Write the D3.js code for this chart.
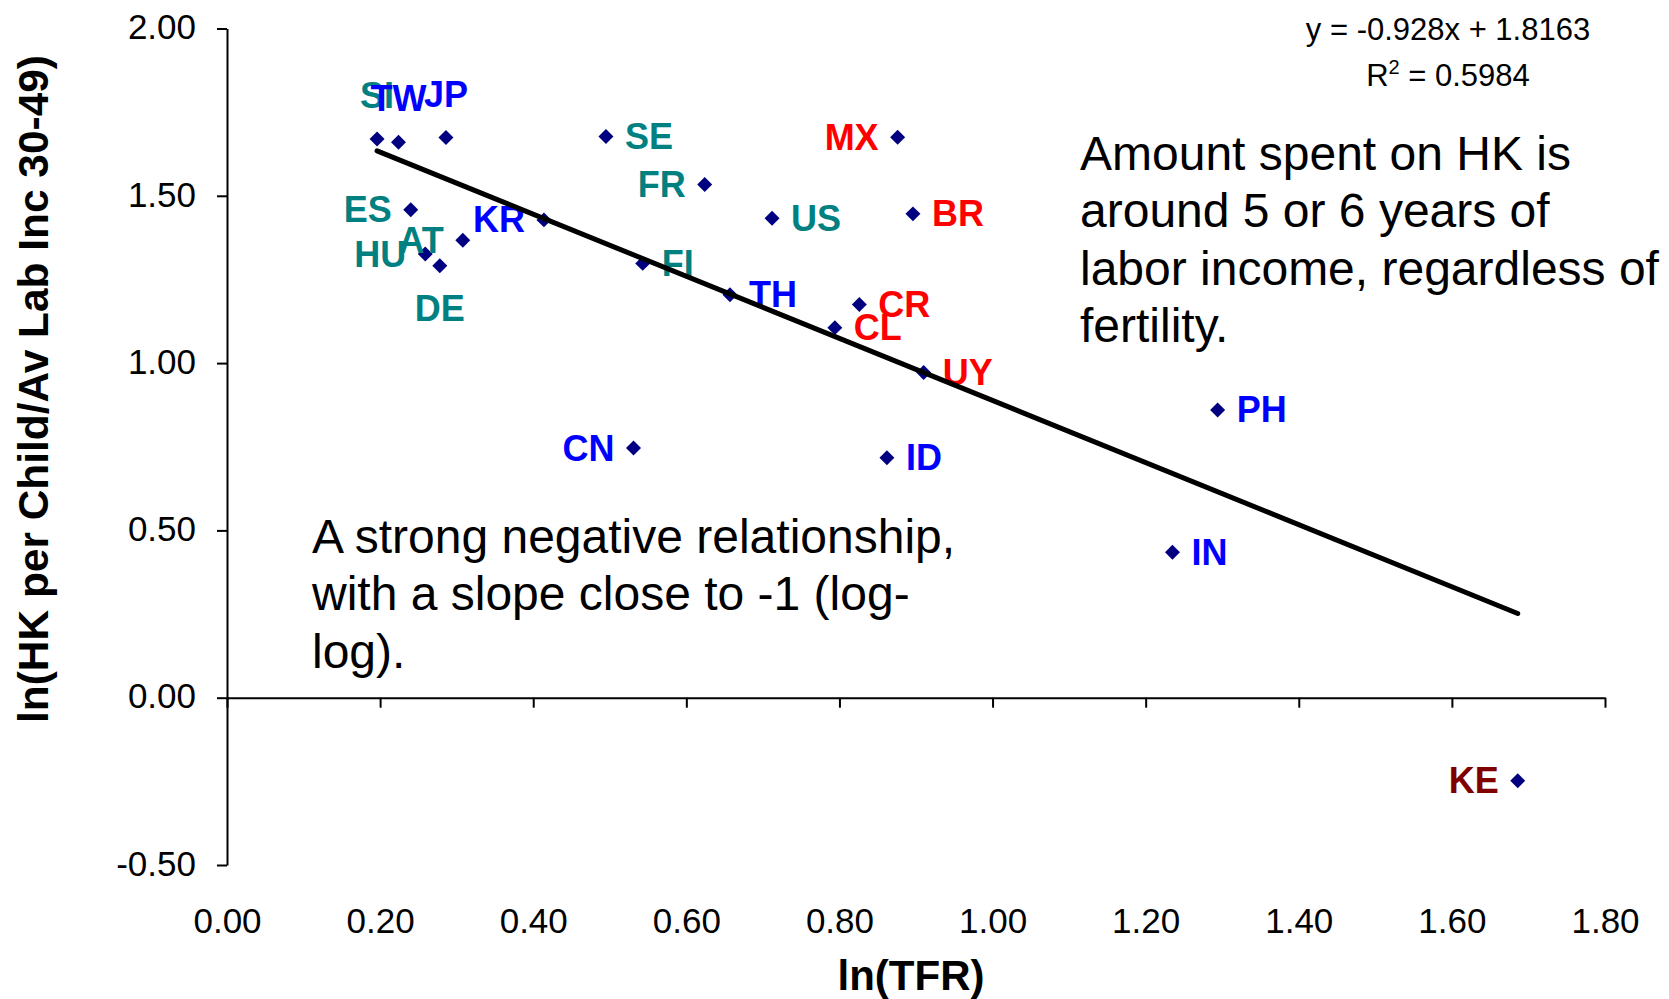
<!DOCTYPE html>
<html>
<head>
<meta charset="utf-8">
<script src="https://cdn.jsdelivr.net/npm/d3@7"></script>
<style>
  html, body { margin: 0; padding: 0; background: #ffffff; }
  svg { display: block; font-family: "Liberation Sans", Arial, Helvetica, sans-serif; }
</style>
</head>
<body>
<svg id="chart" width="1669" height="999"></svg>
<script>
// ---------------- DATA ----------------
const countries = ["SI","TW","JP","ES","HU","AT","DE","KR","SE","FR","US","FI","TH","CN","MX","BR","CR","CL","UY","ID","PH","IN","KE"];
const lnTFR     = [0.196,0.224,0.286,0.240,0.259,0.308,0.278,0.414,0.495,0.624,0.712,0.543,0.657,0.531,0.876,0.896,0.826,0.794,0.910,0.862,1.294,1.235,1.686];
const lnHK      = [1.670,1.660,1.674,1.458,1.326,1.367,1.291,1.428,1.677,1.534,1.433,1.298,1.204,0.746,1.675,1.446,1.175,1.106,0.972,0.717,0.860,0.435,-0.248];
const regionGroup = ["eu","asia","asia","eu","eu","eu","eu","asia","eu","eu","eu","eu","asia","asia","latam","latam","latam","latam","latam","asia","asia","asia","africa"];
const labelSide = ["above","above","above","left","left","left","below","left","right","left","right","right","right","left","left","right","right","right","right","right","right","right","left"];

const xTickValues = [0.0,0.2,0.4,0.6,0.8,1.0,1.2,1.4,1.6,1.8];
const yTickValues = [-0.5,0.0,0.5,1.0,1.5,2.0];

const trendSlope = -0.928;
const trendIntercept = 1.8163;
const rSquared = 0.5984;

const xTitle = "ln(TFR)";
const yTitle = "ln(HK per Child/Av Lab Inc 30-49)";
const noteLeft  = ["A strong negative relationship,", "with a slope close to -1 (log-", "log)."];
const noteRight = ["Amount spent on HK is", "around 5 or 6 years of", "labor income, regardless of", "fertility."];

// ---------------- STYLE ----------------
const groupColor = { eu: "#008080", asia: "#0000FF", latam: "#FF0000", africa: "#800000" };
const markerColor = "#000080";

const svg = d3.select("#chart");

const x = d3.scaleLinear().domain([0, 1.8]).range([227, 1605]);
const y = d3.scaleLinear().domain([-0.5, 2.0]).range([865, 28.5]);

const fmt = d => d.toFixed(2);

// Y axis
const yAxisG = svg.append("g")
  .attr("transform", `translate(${x(0)},0)`)
  .call(d3.axisLeft(y).tickValues(yTickValues).tickFormat(fmt).tickSize(10).tickSizeOuter(0).tickPadding(21));
yAxisG.select(".domain").attr("stroke", "#000").attr("stroke-width", 2);
yAxisG.selectAll(".tick line").attr("stroke", "#000").attr("stroke-width", 2);
yAxisG.selectAll(".tick text")
  .attr("font-family", "Liberation Sans, Arial, sans-serif")
  .attr("font-size", 35).attr("fill", "#000")
  .attr("y", -2)
  .attr("dy", "0.35em");

// X axis (line at y = 0, labels at the bottom)
const xAxisG = svg.append("g")
  .attr("transform", `translate(0,${y(0)})`)
  .call(d3.axisBottom(x).tickValues(xTickValues).tickFormat(fmt).tickSize(10).tickSizeOuter(0));
xAxisG.select(".domain").attr("stroke", "#000").attr("stroke-width", 2);
xAxisG.selectAll(".tick line").attr("stroke", "#000").attr("stroke-width", 2);
xAxisG.selectAll(".tick text")
  .attr("font-family", "Liberation Sans, Arial, sans-serif")
  .attr("font-size", 35).attr("fill", "#000")
  .attr("y", y(-0.5) - y(0) + 68).attr("dy", 0);

// Axis titles
svg.append("text")
  .attr("x", 911).attr("y", 990)
  .attr("text-anchor", "middle")
  .attr("font-size", 42).attr("font-weight", "bold").attr("fill", "#000")
  .text(xTitle);

svg.append("text")
  .attr("transform", "translate(48,389) rotate(-90)")
  .attr("text-anchor", "middle")
  .attr("font-size", 43).attr("font-weight", "bold").attr("fill", "#000")
  .attr("textLength", 668).attr("lengthAdjust", "spacingAndGlyphs")
  .text(yTitle);

// Data
const points = countries.map((c, i) => ({ c, x: lnTFR[i], y: lnHK[i], g: regionGroup[i], side: labelSide[i] }));

// Markers
svg.append("g").selectAll("path")
  .data(points).join("path")
  .attr("d", d3.symbol(d3.symbolSquare, 112))
  .attr("transform", d => `translate(${x(d.x)},${y(d.y)}) rotate(45)`)
  .attr("fill", markerColor);

// Labels
const labelG = svg.append("g")
  .attr("font-size", 36).attr("font-weight", "bold");
labelG.selectAll("text")
  .data(points).join("text")
  .attr("fill", d => groupColor[d.g])
  .attr("text-anchor", d => d.side === "right" ? "start" : d.side === "left" ? "end" : "middle")
  .attr("x", d => x(d.x) + (d.side === "right" ? 19 : d.side === "left" ? -19 : 0))
  .attr("y", d => y(d.y) + (d.side === "above" ? -31 : d.side === "below" ? 55 : 12.5))
  .text(d => d.c);

// Trend line
const xExt = d3.extent(lnTFR);
svg.append("path")
  .datum(xExt.map(v => [v, trendSlope * v + trendIntercept]))
  .attr("d", d3.line().x(d => x(d[0])).y(d => y(d[1])))
  .attr("fill", "none").attr("stroke", "#000")
  .attr("stroke-width", 5).attr("stroke-linecap", "round");

// Equation
svg.append("text")
  .attr("x", 1448).attr("y", 40)
  .attr("text-anchor", "middle").attr("font-size", 31).attr("fill", "#000")
  .text(`y = ${trendSlope}x + ${trendIntercept}`);
const r2 = svg.append("text")
  .attr("x", 1448).attr("y", 86)
  .attr("text-anchor", "middle").attr("font-size", 31).attr("fill", "#000");
r2.append("tspan").text("R");
r2.append("tspan").attr("font-size", 20).attr("dy", -12).text("2");
r2.append("tspan").attr("dy", 12).text(` = ${rSquared}`);

// Annotations
const nl = svg.append("text").attr("font-size", 48).attr("fill", "#000");
noteLeft.forEach((t, i) => nl.append("tspan").attr("x", 312).attr("y", 553 + i * 57.3).text(t));

const nr = svg.append("text").attr("font-size", 48).attr("fill", "#000");
noteRight.forEach((t, i) => nr.append("tspan").attr("x", 1080).attr("y", 170 + i * 57.3).text(t));
</script>
</body>
</html>
